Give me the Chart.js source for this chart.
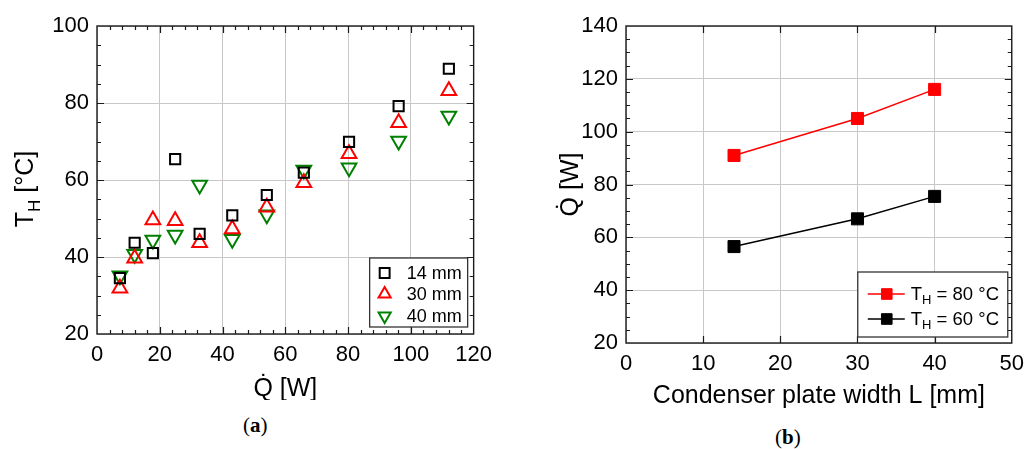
<!DOCTYPE html>
<html>
<head>
<meta charset="utf-8">
<script src="https://cdn.jsdelivr.net/npm/chart.js@4.4.1/dist/chart.umd.min.js"></script>
<style>
  html, body { margin:0; padding:0; background:#fff; width:1032px; height:449px; overflow:hidden; }
  .box { position:absolute; top:0; }
  .cap { position:absolute; font-family:"Liberation Serif","DejaVu Serif",serif; font-size:21px; color:#000; }
</style>
</head>
<body>
<div class="box" style="left:0;width:500px;height:400px;"><canvas id="ca" width="500" height="400"></canvas></div>
<div class="box" style="left:520px;width:512px;height:410px;"><canvas id="cb" width="512" height="410"></canvas></div>
<div class="cap" style="left:243px;top:413px;">(<b>a</b>)</div>
<div class="cap" style="left:775px;top:425px;">(<b>b</b>)</div>
<script>
// ---------- data (a) ----------
const heatInput = [7.3, 12.0, 17.8, 24.9, 32.7, 43.1, 54.1, 65.9, 80.3, 96.1, 112.1];
const tH14 = [34.5, 43.7, 41.0, 65.4, 46.0, 50.8, 56.1, 61.9, 69.9, 79.2, 88.9];
const tH30 = [31.9, 39.7, 49.6, 49.4, 43.7, 47.3, 52.9, 59.3, 66.8, 74.9, 83.2];
const tH40 = [35.1, 40.7, 44.4, 45.7, 58.7, 44.6, 51.0, 62.6, 63.2, 70.1, 76.6];
const seriesA = ["14 mm", "30 mm", "40 mm"];
// ---------- data (b) ----------
const plateWidth = [14, 30, 40];
const q80 = [91, 105, 116];
const q60 = [56.5, 67, 75.5];
const seriesB = ["80 °C", "60 °C"];

const FONT = '"Liberation Sans", Arial, sans-serif';
Chart.defaults.font.family = FONT;
Chart.defaults.color = '#000';

function pts(xs, ys) { return xs.map((x, i) => ({ x: x, y: ys[i] })); }

// frame, inward ticks, titles, legend
const decor = {
  id: 'decor',
  afterDraw(chart, args, o) {
    const { ctx, chartArea: a, scales } = chart;
    const x = scales.x, y = scales.y;
    ctx.save();
    ctx.strokeStyle = '#1a1a1a';
    ctx.lineWidth = 1.2;
    function ticks(axis, step, major, horiz) {
      const n = Math.round((axis.max - axis.min) / step);
      for (let i = 1; i < n; i++) {
        const v = axis.min + i * step;
        const isMaj = Math.abs(v / major - Math.round(v / major)) < 1e-6;
        const len = isMaj ? 7 : 4;
        const p = Math.round(axis.getPixelForValue(v)) + 0.5;
        ctx.beginPath();
        if (horiz) {
          ctx.moveTo(p, a.bottom); ctx.lineTo(p, a.bottom - len);
          ctx.moveTo(p, a.top); ctx.lineTo(p, a.top + len);
        } else {
          ctx.moveTo(a.left, p); ctx.lineTo(a.left + len, p);
          ctx.moveTo(a.right, p); ctx.lineTo(a.right - len, p);
        }
        ctx.stroke();
      }
    }
    ticks(x, o.xMinor, o.xMajor, true);
    ticks(y, o.yMinor, o.yMajor, false);
    ctx.lineWidth = 1.4;
    ctx.strokeRect(a.left, a.top, a.right - a.left, a.bottom - a.top);

    // x title
    ctx.fillStyle = '#000';
    ctx.font = o.titleSize + 'px ' + FONT;
    ctx.textAlign = 'center';
    ctx.textBaseline = 'alphabetic';
    ctx.fillText(o.xTitle, (a.left + a.right) / 2 + (o.xTitleDx || 0), o.xTitleY);

    // y title (rotated), with optional subscript
    ctx.save();
    ctx.translate(o.yTitleX, (a.top + a.bottom) / 2 + (o.yTitleDy || 0));
    ctx.rotate(-Math.PI / 2);
    drawRich(ctx, o.yTitle, 0, 0, o.titleSize, 'center');
    ctx.restore();

    // legend
    const L = o.legend;
    const bx = a.right - L.right - L.w, by = a.bottom - L.bottom - L.h;
    ctx.fillStyle = '#fff';
    ctx.fillRect(bx, by, L.w, L.h);
    ctx.strokeStyle = '#333';
    ctx.lineWidth = 1.3;
    ctx.strokeRect(bx, by, L.w, L.h);
    chart.data.datasets.forEach((ds, i) => {
      const cy = by + L.rows[i];
      if (L.line) {
        ctx.strokeStyle = ds.borderColor;
        ctx.lineWidth = ds.borderWidth;
        ctx.beginPath();
        ctx.moveTo(bx + L.lineX0, cy); ctx.lineTo(bx + L.lineX1, cy);
        ctx.stroke();
      }
      ctx.strokeStyle = ds.pointBorderColor;
      ctx.fillStyle = ds.pointBackgroundColor;
      ctx.lineWidth = ds.pointBorderWidth;
      Chart.helpers.drawPoint(ctx, {
        pointStyle: ds.pointStyle, rotation: ds.pointRotation || 0,
        radius: L.markR || ds.pointRadius, borderWidth: ds.pointBorderWidth
      }, bx + L.markX, cy);
      ctx.fillStyle = '#000';
      drawRich(ctx, L.prefix ? [{ t: 'T' }, { t: 'H', sub: true }, { t: ' = ' + ds.label }] : [{ t: ds.label }],
               bx + L.textX, cy + 1, L.size, 'left', 'middle');
    });
    ctx.restore();
  }
};

// draw text pieces with subscript support
function drawRich(ctx, parts, x, y, size, align, baseline) {
  if (typeof parts === 'string') parts = [{ t: parts }];
  const subSize = Math.round(size * 0.68);
  let total = 0;
  const widths = parts.map(p => {
    ctx.font = (p.sub ? subSize : size) + 'px ' + FONT;
    const w = ctx.measureText(p.t).width;
    total += w;
    return w;
  });
  let cx = align === 'center' ? x - total / 2 : x;
  ctx.textAlign = 'left';
  ctx.textBaseline = baseline || 'alphabetic';
  parts.forEach((p, i) => {
    ctx.font = (p.sub ? subSize : size) + 'px ' + FONT;
    ctx.fillText(p.t, cx, y + (p.sub ? size * 0.28 : 0));
    cx += widths[i];
  });
}

const gridStyle = { color: '#c8c8c8', lineWidth: 1, drawTicks: false };
const tickFont = { size: 22, family: FONT };

// ---------- chart (a) ----------
new Chart(document.getElementById('ca'), {
  type: 'scatter',
  data: {
    datasets: [
      { label: seriesA[0], data: pts(heatInput, tH14), pointStyle: 'rect', pointRadius: 7.2,
        pointBorderColor: '#000', pointBackgroundColor: 'rgba(0,0,0,0)', pointBorderWidth: 2 },
      { label: seriesA[1], data: pts(heatInput, tH30), pointStyle: 'triangle', pointRadius: 8.5,
        pointBorderColor: '#ff0000', pointBackgroundColor: 'rgba(0,0,0,0)', pointBorderWidth: 2 },
      { label: seriesA[2], data: pts(heatInput, tH40), pointStyle: 'triangle', pointRotation: 180, pointRadius: 8.5,
        pointBorderColor: '#008000', pointBackgroundColor: 'rgba(0,0,0,0)', pointBorderWidth: 2 }
    ]
  },
  options: {
    responsive: false, animation: false, devicePixelRatio: 1,
    layout: { padding: { left: 0, top: 26, right: 21, bottom: 0 } },
    plugins: {
      legend: { display: false }, tooltip: { enabled: false },
      decor: {
        xMinor: 4, xMajor: 20, yMinor: 5, yMajor: 20,
        xTitle: 'Q\u0307 [W]', xTitleY: 396, titleSize: 25,
        yTitle: [{ t: 'T' }, { t: 'H', sub: true }, { t: ' [°C]' }], yTitleX: 33, yTitleDy: 9,
        legend: { right: 6, bottom: 7, w: 98, h: 69, rows: [15, 36, 58], markX: 15, textX: 37, size: 18, markR: 7 }
      }
    },
    scales: {
      x: { type: 'linear', min: 0, max: 120, grid: gridStyle, border: { display: false },
           ticks: { stepSize: 20, font: tickFont, padding: 8, color: '#000' },
           afterFit: s => { s.height = 66; } },
      y: { type: 'linear', min: 20, max: 100, grid: gridStyle, border: { display: false },
           ticks: { stepSize: 20, font: tickFont, padding: 8, color: '#000' },
           afterFit: s => { s.width = 97; } }
    }
  },
  plugins: [decor]
});

// ---------- chart (b) ----------
new Chart(document.getElementById('cb'), {
  type: 'scatter',
  data: {
    datasets: [
      { label: seriesB[0], data: pts(plateWidth, q80), showLine: true, borderColor: '#ff0000', borderWidth: 1.5,
        pointStyle: 'rect', pointRadius: 8.5, pointBorderColor: '#ff0000', pointBackgroundColor: '#ff0000', pointBorderWidth: 1 },
      { label: seriesB[1], data: pts(plateWidth, q60), showLine: true, borderColor: '#000', borderWidth: 1.5,
        pointStyle: 'rect', pointRadius: 8.5, pointBorderColor: '#000', pointBackgroundColor: '#000', pointBorderWidth: 1 }
    ]
  },
  options: {
    responsive: false, animation: false, devicePixelRatio: 1,
    layout: { padding: { left: 0, top: 26, right: 15, bottom: 0 } },
    plugins: {
      legend: { display: false }, tooltip: { enabled: false },
      decor: {
        xMinor: 10, xMajor: 10, yMinor: 5, yMajor: 20,
        xTitle: 'Condenser plate width L [mm]', xTitleY: 403, titleSize: 25,
        yTitle: [{ t: 'Q\u0307 [W]' }], yTitleX: 58, yTitleDy: 0,
        legend: { right: 4, bottom: 6, w: 150, h: 65, rows: [22, 47], line: true, lineX0: 10, lineX1: 47,
                  markX: 29, textX: 53, size: 18.5, markR: 7.5, prefix: true }
      }
    },
    scales: {
      x: { type: 'linear', min: 0, max: 50, grid: gridStyle, border: { display: false },
           ticks: { stepSize: 10, font: tickFont, padding: 8, color: '#000' },
           afterFit: s => { s.height = 67; } },
      y: { type: 'linear', min: 20, max: 140, grid: gridStyle, border: { display: false },
           ticks: { stepSize: 20, font: tickFont, padding: 8, color: '#000' },
           afterFit: s => { s.width = 106; } }
    }
  },
  plugins: [decor]
});
</script>
</body>
</html>
